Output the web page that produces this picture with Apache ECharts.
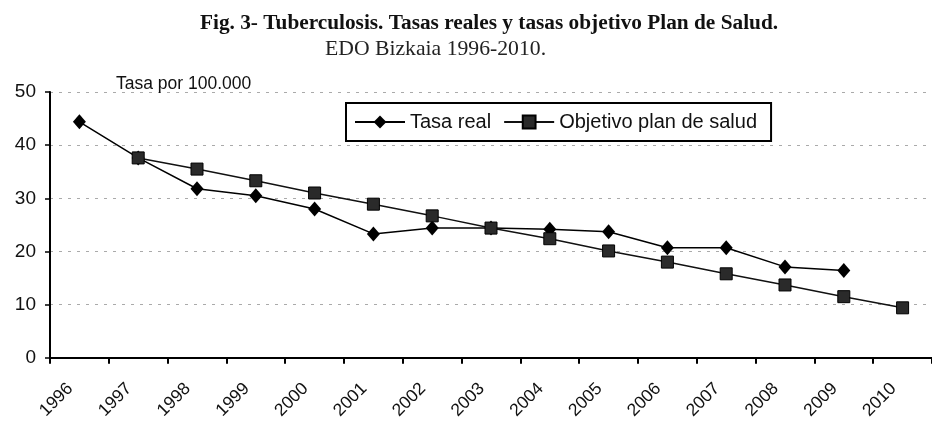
<!DOCTYPE html>
<html><head><meta charset="utf-8">
<script src="https://cdn.jsdelivr.net/npm/echarts@6/dist/echarts.min.js"></script>
<style>html,body{margin:0;padding:0;background:#fff}#c{width:932px;height:422px}</style>
</head><body><div id="c"></div>
<script>
const years = ['1996','1997','1998','1999','2000','2001','2002','2003','2004','2005','2006','2007','2008','2009','2010'];
const tasaReal = [44.4, 37.6, 31.8, 30.5, 28.0, 23.3, 24.4, 24.4, 24.2, 23.7, 20.7, 20.7, 17.1, 16.4, null];
const objetivo = [null, 37.6, 35.5, 33.3, 31.0, 28.9, 26.7, 24.4, 22.4, 20.1, 18.0, 15.8, 13.7, 11.5, 9.4];
const yTicks = [0, 10, 20, 30, 40, 50];

const chart = echarts.init(document.getElementById('c'), null, {renderer: 'canvas'});
chart.setOption({
  animation: false,
  backgroundColor: '#fff',
  title: [
    {text: 'Fig. 3- Tuberculosis. Tasas reales y tasas objetivo Plan de Salud.', left: 195, top: 8,
     textStyle: {fontFamily: 'Liberation Serif', fontWeight: 'bold', fontSize: 21.3, color: '#111'}},
    {text: 'EDO Bizkaia 1996-2010.', left: 320, top: 33,
     textStyle: {fontFamily: 'Liberation Serif', fontWeight: 'normal', fontSize: 21.7, color: '#222'}},
    {text: 'Tasa por 100.000', left: 111, top: 70,
     textStyle: {fontFamily: 'Liberation Sans', fontWeight: 'normal', fontSize: 17.5, color: '#111'}}
  ],
  legend: {
    left: 346, top: 103,
    padding: [9, 14, 9, 8],
    borderColor: '#000', borderWidth: 2,
    itemWidth: 50, itemHeight: 16, itemGap: 12,
    textStyle: {fontFamily: 'Liberation Sans', fontSize: 20, color: '#111'},
    data: ['Tasa real', 'Objetivo plan de salud']
  },
  grid: {left: 50, right: -3, top: 92, bottom: 64, containLabel: false},
  xAxis: {
    type: 'category', data: years, boundaryGap: true,
    axisLine: {lineStyle: {color: '#000', width: 2}},
    axisTick: {show: true, length: 6, lineStyle: {color: '#000', width: 2}},
    axisLabel: {rotate: 45, margin: 19, padding: [0, 13, 0, 0], fontFamily: 'Liberation Sans', fontSize: 17.5, color: '#111', interval: 0}
  },
  yAxis: {
    type: 'value', min: 0, max: 50, interval: 10,
    axisLine: {show: true, lineStyle: {color: '#000', width: 2}},
    axisTick: {show: true, length: 5, lineStyle: {color: '#000', width: 1.5}},
    axisLabel: {fontFamily: 'Liberation Sans', fontSize: 19, color: '#111', margin: 14,
      formatter: v => yTicks.includes(v) ? String(v) : ''},
    splitLine: {show: true, lineStyle: {color: '#aaa', type: [3, 6], width: 1.2}}
  },
  series: [
    {name: 'Tasa real', type: 'line', data: tasaReal, symbol: 'diamond', symbolSize: [13, 15],
     lineStyle: {color: '#000', width: 1.5}, itemStyle: {color: '#000'}, connectNulls: false},
    {name: 'Objetivo plan de salud', type: 'line', data: objetivo, symbol: 'rect', symbolSize: 12,
     lineStyle: {color: '#111', width: 1.5}, itemStyle: {color: '#2a2a2a', borderColor: '#000', borderWidth: 1}, connectNulls: false}
  ]
});
</script></body></html>
